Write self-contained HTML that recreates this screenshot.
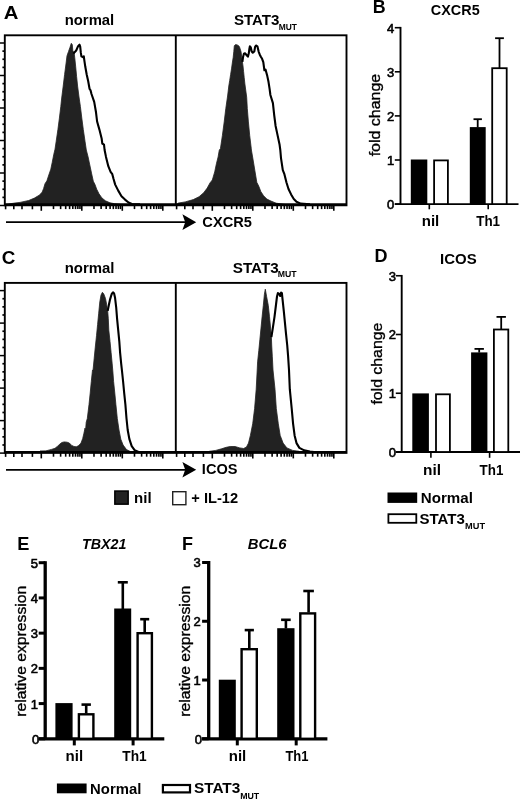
<!DOCTYPE html>
<html><head><meta charset="utf-8"><style>
html,body{margin:0;padding:0;background:#fff;overflow:hidden;}
svg{display:block;will-change:transform;}
text{font-family:"Liberation Sans", sans-serif;fill:#000;}
</style></head><body>
<svg width="520" height="799" viewBox="0 0 520 799">
<rect width="520" height="799" fill="#fff"/>
<text x="3.77" y="18.75" font-size="18" font-weight="bold" font-style="normal" textLength="14.65" lengthAdjust="spacingAndGlyphs">A</text>
<text x="64.74" y="24.8" font-size="14" font-weight="bold" font-style="normal" textLength="49.49" lengthAdjust="spacingAndGlyphs">normal</text>
<text x="233.92" y="25.0" font-size="14" font-weight="bold" font-style="normal" textLength="45.56" lengthAdjust="spacingAndGlyphs">STAT3</text>
<text x="278.71" y="29.6" font-size="8.5" font-weight="bold" font-style="normal" textLength="18.21" lengthAdjust="spacingAndGlyphs">MUT</text>
<text x="202.36" y="227.3" font-size="14" font-weight="bold" font-style="normal" textLength="49.53" lengthAdjust="spacingAndGlyphs">CXCR5</text>
<polygon points="5.5,204.6 10.0,203.8 15.0,203.0 20.0,202.4 28.7,200.5 34.4,198.1 39.2,195.2 42.1,192.3 43.6,188.5 45.0,183.7 46.9,180.8 48.8,175.0 50.8,169.2 52.2,162.5 53.7,154.8 55.0,149.2 56.2,141.2 57.9,129.6 59.4,118.1 60.8,106.5 61.7,98.0 63.2,86.1 64.6,74.5 66.1,63.0 67.0,55.8 68.5,51.5 69.9,47.6 71.3,43.3 72.3,44.7 72.8,50.5 74.2,53.4 74.7,57.2 75.7,66.8 76.6,76.5 77.6,86.1 79.0,97.0 80.4,106.5 81.8,118.1 83.3,129.6 85.0,141.2 86.3,150.0 88.1,156.9 89.8,165.0 91.5,173.1 93.3,181.2 95.0,184.6 96.7,189.2 99.0,193.8 101.9,197.9 105.4,200.8 110.0,202.8 114.6,203.7 120.4,204.3 126.0,204.6" fill="#222" stroke="#222" stroke-width="0.8" stroke-linejoin="round"/>
<polygon points="176.6,204.6 178.3,203.1 185.2,201.9 193.3,199.6 199.1,196.7 203.7,192.7 207.2,188.1 210.0,182.9 212.3,180.0 214.7,171.9 216.4,163.8 218.1,156.9 219.3,150.0 220.4,148.8 222.4,135.4 224.2,121.9 225.8,108.5 227.6,96.0 228.8,86.0 229.7,80.4 230.6,74.6 231.5,68.9 232.3,63.1 233.2,57.3 233.8,51.5 234.3,45.8 235.5,44.6 237.2,44.9 238.7,45.8 239.5,46.9 241.0,51.5 241.8,57.3 242.4,61.9 243.0,66.0 243.6,71.7 244.2,77.5 244.9,84.0 246.7,97.3 247.3,108.5 248.4,121.9 249.7,135.4 251.3,148.8 251.4,150.0 252.8,158.1 254.8,170.2 256.8,182.3 258.8,186.3 260.9,191.7 263.6,195.8 266.9,199.1 271.0,201.1 276.3,203.2 280.4,203.8 286.0,204.6" fill="#222" stroke="#222" stroke-width="0.8" stroke-linejoin="round"/>
<polyline points="73.4,53.6 76.2,50.5 78.1,46.2 79.5,44.7 80.2,46.7 80.8,52.4 81.4,56.3 82.9,57.2 83.8,56.3 84.3,60.1 85.3,66.8 86.7,74.5 88.2,81.3 89.6,89.0 90.6,90.4 91.5,94.0 94.2,101.9 96.0,112.3 97.1,121.5 99.4,129.6 101.7,138.8 102.3,143.5 104.0,144.6 104.6,150.0 106.0,156.9 108.3,166.2 110.6,171.9 112.3,174.2 113.5,178.8 115.2,184.6 118.1,190.4 121.5,196.2 125.0,199.6 128.5,202.5 131.9,204.0 140.0,204.4" fill="none" stroke="#000" stroke-width="2.1" stroke-linejoin="round"/>
<polyline points="242.4,61.9 243.0,57.3 243.9,53.8 245.0,53.3 246.5,55.0 247.9,56.7 248.8,53.3 249.4,48.7 249.9,46.3 250.8,47.5 251.7,51.5 252.8,52.7 254.3,51.5 255.1,46.9 256.0,45.5 257.4,46.3 258.7,51.8 259.8,54.7 261.0,57.0 262.1,58.8 263.3,62.2 264.4,70.3 265.6,69.7 266.2,72.0 267.3,76.1 268.5,81.8 269.6,88.8 270.4,95.0 272.9,103.1 274.2,115.2 275.6,126.0 277.6,135.4 279.6,144.8 280.3,150.0 281.0,158.1 282.8,170.2 284.4,174.2 286.4,182.3 288.5,189.0 291.1,194.4 293.8,199.1 296.5,201.8 300.6,203.6 310.0,204.3" fill="none" stroke="#000" stroke-width="2.1" stroke-linejoin="round"/>
<rect x="4.8" y="35.3" width="341.7" height="170.0" fill="none" stroke="#000" stroke-width="1.9"/>
<line x1="175.80" y1="35.30" x2="175.80" y2="205.30" stroke="#000" stroke-width="1.9" stroke-linecap="butt"/>
<line x1="4.80" y1="204.30" x2="346.50" y2="204.30" stroke="#000" stroke-width="2.0" stroke-linecap="butt"/>
<line x1="0.00" y1="43.00" x2="4.80" y2="43.00" stroke="#000" stroke-width="1.5" stroke-linecap="butt"/>
<line x1="2.40" y1="51.12" x2="4.80" y2="51.12" stroke="#000" stroke-width="1.7" stroke-linecap="butt"/>
<line x1="2.40" y1="59.25" x2="4.80" y2="59.25" stroke="#000" stroke-width="1.7" stroke-linecap="butt"/>
<line x1="2.40" y1="67.38" x2="4.80" y2="67.38" stroke="#000" stroke-width="1.7" stroke-linecap="butt"/>
<line x1="0.00" y1="75.50" x2="4.80" y2="75.50" stroke="#000" stroke-width="1.5" stroke-linecap="butt"/>
<line x1="2.40" y1="83.62" x2="4.80" y2="83.62" stroke="#000" stroke-width="1.7" stroke-linecap="butt"/>
<line x1="2.40" y1="91.75" x2="4.80" y2="91.75" stroke="#000" stroke-width="1.7" stroke-linecap="butt"/>
<line x1="2.40" y1="99.88" x2="4.80" y2="99.88" stroke="#000" stroke-width="1.7" stroke-linecap="butt"/>
<line x1="0.00" y1="108.00" x2="4.80" y2="108.00" stroke="#000" stroke-width="1.5" stroke-linecap="butt"/>
<line x1="2.40" y1="116.12" x2="4.80" y2="116.12" stroke="#000" stroke-width="1.7" stroke-linecap="butt"/>
<line x1="2.40" y1="124.25" x2="4.80" y2="124.25" stroke="#000" stroke-width="1.7" stroke-linecap="butt"/>
<line x1="2.40" y1="132.38" x2="4.80" y2="132.38" stroke="#000" stroke-width="1.7" stroke-linecap="butt"/>
<line x1="0.00" y1="140.50" x2="4.80" y2="140.50" stroke="#000" stroke-width="1.5" stroke-linecap="butt"/>
<line x1="2.40" y1="148.62" x2="4.80" y2="148.62" stroke="#000" stroke-width="1.7" stroke-linecap="butt"/>
<line x1="2.40" y1="156.75" x2="4.80" y2="156.75" stroke="#000" stroke-width="1.7" stroke-linecap="butt"/>
<line x1="2.40" y1="164.88" x2="4.80" y2="164.88" stroke="#000" stroke-width="1.7" stroke-linecap="butt"/>
<line x1="0.00" y1="173.00" x2="4.80" y2="173.00" stroke="#000" stroke-width="1.5" stroke-linecap="butt"/>
<line x1="2.40" y1="181.12" x2="4.80" y2="181.12" stroke="#000" stroke-width="1.7" stroke-linecap="butt"/>
<line x1="2.40" y1="189.25" x2="4.80" y2="189.25" stroke="#000" stroke-width="1.7" stroke-linecap="butt"/>
<line x1="2.40" y1="197.38" x2="4.80" y2="197.38" stroke="#000" stroke-width="1.7" stroke-linecap="butt"/>
<line x1="0.00" y1="205.50" x2="4.80" y2="205.50" stroke="#000" stroke-width="1.5" stroke-linecap="butt"/>
<line x1="5.60" y1="205.30" x2="5.60" y2="209.30" stroke="#000" stroke-width="1.6" stroke-linecap="butt"/>
<line x1="13.80" y1="205.30" x2="13.80" y2="209.30" stroke="#000" stroke-width="1.6" stroke-linecap="butt"/>
<line x1="22.00" y1="205.30" x2="22.00" y2="209.30" stroke="#000" stroke-width="1.6" stroke-linecap="butt"/>
<line x1="32.40" y1="205.30" x2="32.40" y2="209.30" stroke="#000" stroke-width="1.6" stroke-linecap="butt"/>
<line x1="41.30" y1="205.30" x2="41.30" y2="210.80" stroke="#000" stroke-width="1.6" stroke-linecap="butt"/>
<line x1="53.49" y1="205.30" x2="53.49" y2="209.10" stroke="#000" stroke-width="1.6" stroke-linecap="butt"/>
<line x1="60.62" y1="205.30" x2="60.62" y2="209.10" stroke="#000" stroke-width="1.6" stroke-linecap="butt"/>
<line x1="65.68" y1="205.30" x2="65.68" y2="209.10" stroke="#000" stroke-width="1.6" stroke-linecap="butt"/>
<line x1="69.61" y1="205.30" x2="69.61" y2="209.10" stroke="#000" stroke-width="1.6" stroke-linecap="butt"/>
<line x1="72.82" y1="205.30" x2="72.82" y2="209.10" stroke="#000" stroke-width="1.6" stroke-linecap="butt"/>
<line x1="75.53" y1="205.30" x2="75.53" y2="209.10" stroke="#000" stroke-width="1.6" stroke-linecap="butt"/>
<line x1="77.88" y1="205.30" x2="77.88" y2="209.10" stroke="#000" stroke-width="1.6" stroke-linecap="butt"/>
<line x1="79.95" y1="205.30" x2="79.95" y2="209.10" stroke="#000" stroke-width="1.6" stroke-linecap="butt"/>
<line x1="81.80" y1="205.30" x2="81.80" y2="210.80" stroke="#000" stroke-width="1.6" stroke-linecap="butt"/>
<line x1="93.99" y1="205.30" x2="93.99" y2="209.10" stroke="#000" stroke-width="1.6" stroke-linecap="butt"/>
<line x1="101.12" y1="205.30" x2="101.12" y2="209.10" stroke="#000" stroke-width="1.6" stroke-linecap="butt"/>
<line x1="106.18" y1="205.30" x2="106.18" y2="209.10" stroke="#000" stroke-width="1.6" stroke-linecap="butt"/>
<line x1="110.11" y1="205.30" x2="110.11" y2="209.10" stroke="#000" stroke-width="1.6" stroke-linecap="butt"/>
<line x1="113.32" y1="205.30" x2="113.32" y2="209.10" stroke="#000" stroke-width="1.6" stroke-linecap="butt"/>
<line x1="116.03" y1="205.30" x2="116.03" y2="209.10" stroke="#000" stroke-width="1.6" stroke-linecap="butt"/>
<line x1="118.38" y1="205.30" x2="118.38" y2="209.10" stroke="#000" stroke-width="1.6" stroke-linecap="butt"/>
<line x1="120.45" y1="205.30" x2="120.45" y2="209.10" stroke="#000" stroke-width="1.6" stroke-linecap="butt"/>
<line x1="122.30" y1="205.30" x2="122.30" y2="210.80" stroke="#000" stroke-width="1.6" stroke-linecap="butt"/>
<line x1="134.49" y1="205.30" x2="134.49" y2="209.10" stroke="#000" stroke-width="1.6" stroke-linecap="butt"/>
<line x1="141.62" y1="205.30" x2="141.62" y2="209.10" stroke="#000" stroke-width="1.6" stroke-linecap="butt"/>
<line x1="146.68" y1="205.30" x2="146.68" y2="209.10" stroke="#000" stroke-width="1.6" stroke-linecap="butt"/>
<line x1="150.61" y1="205.30" x2="150.61" y2="209.10" stroke="#000" stroke-width="1.6" stroke-linecap="butt"/>
<line x1="153.82" y1="205.30" x2="153.82" y2="209.10" stroke="#000" stroke-width="1.6" stroke-linecap="butt"/>
<line x1="156.53" y1="205.30" x2="156.53" y2="209.10" stroke="#000" stroke-width="1.6" stroke-linecap="butt"/>
<line x1="158.88" y1="205.30" x2="158.88" y2="209.10" stroke="#000" stroke-width="1.6" stroke-linecap="butt"/>
<line x1="160.95" y1="205.30" x2="160.95" y2="209.10" stroke="#000" stroke-width="1.6" stroke-linecap="butt"/>
<line x1="162.80" y1="205.30" x2="162.80" y2="210.80" stroke="#000" stroke-width="1.6" stroke-linecap="butt"/>
<line x1="176.60" y1="205.30" x2="176.60" y2="209.30" stroke="#000" stroke-width="1.6" stroke-linecap="butt"/>
<line x1="184.80" y1="205.30" x2="184.80" y2="209.30" stroke="#000" stroke-width="1.6" stroke-linecap="butt"/>
<line x1="193.00" y1="205.30" x2="193.00" y2="209.30" stroke="#000" stroke-width="1.6" stroke-linecap="butt"/>
<line x1="203.40" y1="205.30" x2="203.40" y2="209.30" stroke="#000" stroke-width="1.6" stroke-linecap="butt"/>
<line x1="212.30" y1="205.30" x2="212.30" y2="210.80" stroke="#000" stroke-width="1.6" stroke-linecap="butt"/>
<line x1="224.49" y1="205.30" x2="224.49" y2="209.10" stroke="#000" stroke-width="1.6" stroke-linecap="butt"/>
<line x1="231.62" y1="205.30" x2="231.62" y2="209.10" stroke="#000" stroke-width="1.6" stroke-linecap="butt"/>
<line x1="236.68" y1="205.30" x2="236.68" y2="209.10" stroke="#000" stroke-width="1.6" stroke-linecap="butt"/>
<line x1="240.61" y1="205.30" x2="240.61" y2="209.10" stroke="#000" stroke-width="1.6" stroke-linecap="butt"/>
<line x1="243.82" y1="205.30" x2="243.82" y2="209.10" stroke="#000" stroke-width="1.6" stroke-linecap="butt"/>
<line x1="246.53" y1="205.30" x2="246.53" y2="209.10" stroke="#000" stroke-width="1.6" stroke-linecap="butt"/>
<line x1="248.88" y1="205.30" x2="248.88" y2="209.10" stroke="#000" stroke-width="1.6" stroke-linecap="butt"/>
<line x1="250.95" y1="205.30" x2="250.95" y2="209.10" stroke="#000" stroke-width="1.6" stroke-linecap="butt"/>
<line x1="252.80" y1="205.30" x2="252.80" y2="210.80" stroke="#000" stroke-width="1.6" stroke-linecap="butt"/>
<line x1="264.99" y1="205.30" x2="264.99" y2="209.10" stroke="#000" stroke-width="1.6" stroke-linecap="butt"/>
<line x1="272.12" y1="205.30" x2="272.12" y2="209.10" stroke="#000" stroke-width="1.6" stroke-linecap="butt"/>
<line x1="277.18" y1="205.30" x2="277.18" y2="209.10" stroke="#000" stroke-width="1.6" stroke-linecap="butt"/>
<line x1="281.11" y1="205.30" x2="281.11" y2="209.10" stroke="#000" stroke-width="1.6" stroke-linecap="butt"/>
<line x1="284.32" y1="205.30" x2="284.32" y2="209.10" stroke="#000" stroke-width="1.6" stroke-linecap="butt"/>
<line x1="287.03" y1="205.30" x2="287.03" y2="209.10" stroke="#000" stroke-width="1.6" stroke-linecap="butt"/>
<line x1="289.38" y1="205.30" x2="289.38" y2="209.10" stroke="#000" stroke-width="1.6" stroke-linecap="butt"/>
<line x1="291.45" y1="205.30" x2="291.45" y2="209.10" stroke="#000" stroke-width="1.6" stroke-linecap="butt"/>
<line x1="293.30" y1="205.30" x2="293.30" y2="210.80" stroke="#000" stroke-width="1.6" stroke-linecap="butt"/>
<line x1="305.49" y1="205.30" x2="305.49" y2="209.10" stroke="#000" stroke-width="1.6" stroke-linecap="butt"/>
<line x1="312.62" y1="205.30" x2="312.62" y2="209.10" stroke="#000" stroke-width="1.6" stroke-linecap="butt"/>
<line x1="317.68" y1="205.30" x2="317.68" y2="209.10" stroke="#000" stroke-width="1.6" stroke-linecap="butt"/>
<line x1="321.61" y1="205.30" x2="321.61" y2="209.10" stroke="#000" stroke-width="1.6" stroke-linecap="butt"/>
<line x1="324.82" y1="205.30" x2="324.82" y2="209.10" stroke="#000" stroke-width="1.6" stroke-linecap="butt"/>
<line x1="327.53" y1="205.30" x2="327.53" y2="209.10" stroke="#000" stroke-width="1.6" stroke-linecap="butt"/>
<line x1="329.88" y1="205.30" x2="329.88" y2="209.10" stroke="#000" stroke-width="1.6" stroke-linecap="butt"/>
<line x1="331.95" y1="205.30" x2="331.95" y2="209.10" stroke="#000" stroke-width="1.6" stroke-linecap="butt"/>
<line x1="333.80" y1="205.30" x2="333.80" y2="210.80" stroke="#000" stroke-width="1.6" stroke-linecap="butt"/>
<line x1="6.00" y1="222.20" x2="186.00" y2="222.20" stroke="#000" stroke-width="1.8" stroke-linecap="butt"/>
<path d="M182.4,214.29999999999998 L196.2,222.2 L182.4,229.89999999999998 L185.2,222.2 Z" fill="#000"/>
<text x="1.85" y="263.7" font-size="18" font-weight="bold" font-style="normal" textLength="13.59" lengthAdjust="spacingAndGlyphs">C</text>
<text x="64.73" y="272.5" font-size="14" font-weight="bold" font-style="normal" textLength="49.8" lengthAdjust="spacingAndGlyphs">normal</text>
<text x="232.71" y="272.8" font-size="14" font-weight="bold" font-style="normal" textLength="46.08" lengthAdjust="spacingAndGlyphs">STAT3</text>
<text x="277.78" y="277.4" font-size="8.5" font-weight="bold" font-style="normal" textLength="18.86" lengthAdjust="spacingAndGlyphs">MUT</text>
<text x="201.86" y="473.5" font-size="14" font-weight="bold" font-style="normal" textLength="35.58" lengthAdjust="spacingAndGlyphs">ICOS</text>
<polygon points="40.0,451.2 45.8,450.9 51.5,449.4 55.0,448.3 57.3,446.5 59.6,444.2 61.9,442.5 64.2,441.9 67.1,442.2 69.4,443.1 71.7,445.4 74.0,446.5 76.3,446.8 78.7,445.6 81.0,443.1 82.7,438.5 83.8,433.8 85.0,428.1 85.6,430.0 86.2,422.3 87.3,418.5 89.0,404.6 90.2,393.1 91.3,381.5 92.5,370.0 93.1,369.5 94.2,358.2 95.3,347.0 96.5,335.7 97.6,324.4 98.7,313.2 99.8,301.9 101.0,295.1 102.4,292.3 103.8,294.0 105.5,298.5 106.6,304.2 107.7,310.9 108.3,318.8 108.8,330.1 110.0,341.3 111.1,352.6 112.2,363.9 112.9,372.0 113.6,381.5 114.8,393.1 115.9,404.6 117.3,418.5 119.0,430.0 120.8,439.2 123.1,445.0 126.5,449.6 131.2,451.9 135.8,452.8" fill="#222" stroke="#222" stroke-width="0.8" stroke-linejoin="round"/>
<polygon points="205.0,452.3 210.0,451.2 215.8,450.4 221.5,448.8 226.3,447.3 230.2,446.5 235.0,446.5 239.8,447.9 243.7,448.5 246.5,446.9 248.5,443.1 250.4,435.4 252.7,423.8 254.6,408.5 256.2,389.2 257.1,372.0 257.6,361.9 258.8,350.6 259.9,339.3 261.0,328.1 262.1,316.8 263.3,305.5 264.4,294.3 265.3,289.2 266.6,296.5 268.3,305.5 269.5,316.8 270.6,328.1 271.4,337.1 271.7,345.0 272.3,356.2 273.0,370.0 275.0,389.2 276.3,408.5 278.3,423.8 280.2,435.4 283.1,443.1 286.9,447.9 292.7,450.4 298.5,451.2 302.0,452.3" fill="#222" stroke="#222" stroke-width="0.8" stroke-linejoin="round"/>
<polyline points="107.7,310.9 108.8,305.3 110.0,299.6 111.7,294.0 113.0,292.3 114.1,293.5 115.0,297.4 116.2,307.5 117.1,318.8 118.2,330.1 119.3,341.3 120.1,352.6 121.2,363.9 122.0,371.0 123.1,381.5 124.2,393.1 125.4,404.6 126.5,418.5 127.7,430.0 129.4,439.2 131.7,446.2 134.6,450.2 139.2,452.2 145.0,452.5" fill="none" stroke="#000" stroke-width="2.1" stroke-linejoin="round"/>
<polyline points="271.4,337.1 272.8,328.1 274.5,316.8 275.9,305.5 277.0,296.5 277.9,293.1 279.0,293.7 280.2,296.0 281.1,292.6 281.9,293.1 282.6,299.9 283.8,311.2 284.9,322.4 286.0,333.7 287.2,345.0 288.1,356.2 289.0,370.0 289.8,389.2 291.7,408.5 293.1,423.8 294.6,435.4 296.5,443.1 299.4,447.9 304.2,450.4 310.0,451.6 316.0,452.3" fill="none" stroke="#000" stroke-width="2.1" stroke-linejoin="round"/>
<rect x="4.8" y="282.9" width="341.7" height="170.0" fill="none" stroke="#000" stroke-width="1.9"/>
<line x1="175.80" y1="282.90" x2="175.80" y2="452.90" stroke="#000" stroke-width="1.9" stroke-linecap="butt"/>
<line x1="4.80" y1="451.90" x2="346.50" y2="451.90" stroke="#000" stroke-width="2.0" stroke-linecap="butt"/>
<line x1="0.00" y1="290.60" x2="4.80" y2="290.60" stroke="#000" stroke-width="1.5" stroke-linecap="butt"/>
<line x1="2.40" y1="298.73" x2="4.80" y2="298.73" stroke="#000" stroke-width="1.7" stroke-linecap="butt"/>
<line x1="2.40" y1="306.85" x2="4.80" y2="306.85" stroke="#000" stroke-width="1.7" stroke-linecap="butt"/>
<line x1="2.40" y1="314.98" x2="4.80" y2="314.98" stroke="#000" stroke-width="1.7" stroke-linecap="butt"/>
<line x1="0.00" y1="323.10" x2="4.80" y2="323.10" stroke="#000" stroke-width="1.5" stroke-linecap="butt"/>
<line x1="2.40" y1="331.23" x2="4.80" y2="331.23" stroke="#000" stroke-width="1.7" stroke-linecap="butt"/>
<line x1="2.40" y1="339.35" x2="4.80" y2="339.35" stroke="#000" stroke-width="1.7" stroke-linecap="butt"/>
<line x1="2.40" y1="347.48" x2="4.80" y2="347.48" stroke="#000" stroke-width="1.7" stroke-linecap="butt"/>
<line x1="0.00" y1="355.60" x2="4.80" y2="355.60" stroke="#000" stroke-width="1.5" stroke-linecap="butt"/>
<line x1="2.40" y1="363.73" x2="4.80" y2="363.73" stroke="#000" stroke-width="1.7" stroke-linecap="butt"/>
<line x1="2.40" y1="371.85" x2="4.80" y2="371.85" stroke="#000" stroke-width="1.7" stroke-linecap="butt"/>
<line x1="2.40" y1="379.98" x2="4.80" y2="379.98" stroke="#000" stroke-width="1.7" stroke-linecap="butt"/>
<line x1="0.00" y1="388.10" x2="4.80" y2="388.10" stroke="#000" stroke-width="1.5" stroke-linecap="butt"/>
<line x1="2.40" y1="396.23" x2="4.80" y2="396.23" stroke="#000" stroke-width="1.7" stroke-linecap="butt"/>
<line x1="2.40" y1="404.35" x2="4.80" y2="404.35" stroke="#000" stroke-width="1.7" stroke-linecap="butt"/>
<line x1="2.40" y1="412.48" x2="4.80" y2="412.48" stroke="#000" stroke-width="1.7" stroke-linecap="butt"/>
<line x1="0.00" y1="420.60" x2="4.80" y2="420.60" stroke="#000" stroke-width="1.5" stroke-linecap="butt"/>
<line x1="2.40" y1="428.73" x2="4.80" y2="428.73" stroke="#000" stroke-width="1.7" stroke-linecap="butt"/>
<line x1="2.40" y1="436.85" x2="4.80" y2="436.85" stroke="#000" stroke-width="1.7" stroke-linecap="butt"/>
<line x1="2.40" y1="444.98" x2="4.80" y2="444.98" stroke="#000" stroke-width="1.7" stroke-linecap="butt"/>
<line x1="0.00" y1="453.10" x2="4.80" y2="453.10" stroke="#000" stroke-width="1.5" stroke-linecap="butt"/>
<line x1="5.60" y1="452.90" x2="5.60" y2="456.90" stroke="#000" stroke-width="1.6" stroke-linecap="butt"/>
<line x1="13.80" y1="452.90" x2="13.80" y2="456.90" stroke="#000" stroke-width="1.6" stroke-linecap="butt"/>
<line x1="22.00" y1="452.90" x2="22.00" y2="456.90" stroke="#000" stroke-width="1.6" stroke-linecap="butt"/>
<line x1="32.40" y1="452.90" x2="32.40" y2="456.90" stroke="#000" stroke-width="1.6" stroke-linecap="butt"/>
<line x1="41.30" y1="452.90" x2="41.30" y2="458.40" stroke="#000" stroke-width="1.6" stroke-linecap="butt"/>
<line x1="53.49" y1="452.90" x2="53.49" y2="456.70" stroke="#000" stroke-width="1.6" stroke-linecap="butt"/>
<line x1="60.62" y1="452.90" x2="60.62" y2="456.70" stroke="#000" stroke-width="1.6" stroke-linecap="butt"/>
<line x1="65.68" y1="452.90" x2="65.68" y2="456.70" stroke="#000" stroke-width="1.6" stroke-linecap="butt"/>
<line x1="69.61" y1="452.90" x2="69.61" y2="456.70" stroke="#000" stroke-width="1.6" stroke-linecap="butt"/>
<line x1="72.82" y1="452.90" x2="72.82" y2="456.70" stroke="#000" stroke-width="1.6" stroke-linecap="butt"/>
<line x1="75.53" y1="452.90" x2="75.53" y2="456.70" stroke="#000" stroke-width="1.6" stroke-linecap="butt"/>
<line x1="77.88" y1="452.90" x2="77.88" y2="456.70" stroke="#000" stroke-width="1.6" stroke-linecap="butt"/>
<line x1="79.95" y1="452.90" x2="79.95" y2="456.70" stroke="#000" stroke-width="1.6" stroke-linecap="butt"/>
<line x1="81.80" y1="452.90" x2="81.80" y2="458.40" stroke="#000" stroke-width="1.6" stroke-linecap="butt"/>
<line x1="93.99" y1="452.90" x2="93.99" y2="456.70" stroke="#000" stroke-width="1.6" stroke-linecap="butt"/>
<line x1="101.12" y1="452.90" x2="101.12" y2="456.70" stroke="#000" stroke-width="1.6" stroke-linecap="butt"/>
<line x1="106.18" y1="452.90" x2="106.18" y2="456.70" stroke="#000" stroke-width="1.6" stroke-linecap="butt"/>
<line x1="110.11" y1="452.90" x2="110.11" y2="456.70" stroke="#000" stroke-width="1.6" stroke-linecap="butt"/>
<line x1="113.32" y1="452.90" x2="113.32" y2="456.70" stroke="#000" stroke-width="1.6" stroke-linecap="butt"/>
<line x1="116.03" y1="452.90" x2="116.03" y2="456.70" stroke="#000" stroke-width="1.6" stroke-linecap="butt"/>
<line x1="118.38" y1="452.90" x2="118.38" y2="456.70" stroke="#000" stroke-width="1.6" stroke-linecap="butt"/>
<line x1="120.45" y1="452.90" x2="120.45" y2="456.70" stroke="#000" stroke-width="1.6" stroke-linecap="butt"/>
<line x1="122.30" y1="452.90" x2="122.30" y2="458.40" stroke="#000" stroke-width="1.6" stroke-linecap="butt"/>
<line x1="134.49" y1="452.90" x2="134.49" y2="456.70" stroke="#000" stroke-width="1.6" stroke-linecap="butt"/>
<line x1="141.62" y1="452.90" x2="141.62" y2="456.70" stroke="#000" stroke-width="1.6" stroke-linecap="butt"/>
<line x1="146.68" y1="452.90" x2="146.68" y2="456.70" stroke="#000" stroke-width="1.6" stroke-linecap="butt"/>
<line x1="150.61" y1="452.90" x2="150.61" y2="456.70" stroke="#000" stroke-width="1.6" stroke-linecap="butt"/>
<line x1="153.82" y1="452.90" x2="153.82" y2="456.70" stroke="#000" stroke-width="1.6" stroke-linecap="butt"/>
<line x1="156.53" y1="452.90" x2="156.53" y2="456.70" stroke="#000" stroke-width="1.6" stroke-linecap="butt"/>
<line x1="158.88" y1="452.90" x2="158.88" y2="456.70" stroke="#000" stroke-width="1.6" stroke-linecap="butt"/>
<line x1="160.95" y1="452.90" x2="160.95" y2="456.70" stroke="#000" stroke-width="1.6" stroke-linecap="butt"/>
<line x1="162.80" y1="452.90" x2="162.80" y2="458.40" stroke="#000" stroke-width="1.6" stroke-linecap="butt"/>
<line x1="176.60" y1="452.90" x2="176.60" y2="456.90" stroke="#000" stroke-width="1.6" stroke-linecap="butt"/>
<line x1="184.80" y1="452.90" x2="184.80" y2="456.90" stroke="#000" stroke-width="1.6" stroke-linecap="butt"/>
<line x1="193.00" y1="452.90" x2="193.00" y2="456.90" stroke="#000" stroke-width="1.6" stroke-linecap="butt"/>
<line x1="203.40" y1="452.90" x2="203.40" y2="456.90" stroke="#000" stroke-width="1.6" stroke-linecap="butt"/>
<line x1="212.30" y1="452.90" x2="212.30" y2="458.40" stroke="#000" stroke-width="1.6" stroke-linecap="butt"/>
<line x1="224.49" y1="452.90" x2="224.49" y2="456.70" stroke="#000" stroke-width="1.6" stroke-linecap="butt"/>
<line x1="231.62" y1="452.90" x2="231.62" y2="456.70" stroke="#000" stroke-width="1.6" stroke-linecap="butt"/>
<line x1="236.68" y1="452.90" x2="236.68" y2="456.70" stroke="#000" stroke-width="1.6" stroke-linecap="butt"/>
<line x1="240.61" y1="452.90" x2="240.61" y2="456.70" stroke="#000" stroke-width="1.6" stroke-linecap="butt"/>
<line x1="243.82" y1="452.90" x2="243.82" y2="456.70" stroke="#000" stroke-width="1.6" stroke-linecap="butt"/>
<line x1="246.53" y1="452.90" x2="246.53" y2="456.70" stroke="#000" stroke-width="1.6" stroke-linecap="butt"/>
<line x1="248.88" y1="452.90" x2="248.88" y2="456.70" stroke="#000" stroke-width="1.6" stroke-linecap="butt"/>
<line x1="250.95" y1="452.90" x2="250.95" y2="456.70" stroke="#000" stroke-width="1.6" stroke-linecap="butt"/>
<line x1="252.80" y1="452.90" x2="252.80" y2="458.40" stroke="#000" stroke-width="1.6" stroke-linecap="butt"/>
<line x1="264.99" y1="452.90" x2="264.99" y2="456.70" stroke="#000" stroke-width="1.6" stroke-linecap="butt"/>
<line x1="272.12" y1="452.90" x2="272.12" y2="456.70" stroke="#000" stroke-width="1.6" stroke-linecap="butt"/>
<line x1="277.18" y1="452.90" x2="277.18" y2="456.70" stroke="#000" stroke-width="1.6" stroke-linecap="butt"/>
<line x1="281.11" y1="452.90" x2="281.11" y2="456.70" stroke="#000" stroke-width="1.6" stroke-linecap="butt"/>
<line x1="284.32" y1="452.90" x2="284.32" y2="456.70" stroke="#000" stroke-width="1.6" stroke-linecap="butt"/>
<line x1="287.03" y1="452.90" x2="287.03" y2="456.70" stroke="#000" stroke-width="1.6" stroke-linecap="butt"/>
<line x1="289.38" y1="452.90" x2="289.38" y2="456.70" stroke="#000" stroke-width="1.6" stroke-linecap="butt"/>
<line x1="291.45" y1="452.90" x2="291.45" y2="456.70" stroke="#000" stroke-width="1.6" stroke-linecap="butt"/>
<line x1="293.30" y1="452.90" x2="293.30" y2="458.40" stroke="#000" stroke-width="1.6" stroke-linecap="butt"/>
<line x1="305.49" y1="452.90" x2="305.49" y2="456.70" stroke="#000" stroke-width="1.6" stroke-linecap="butt"/>
<line x1="312.62" y1="452.90" x2="312.62" y2="456.70" stroke="#000" stroke-width="1.6" stroke-linecap="butt"/>
<line x1="317.68" y1="452.90" x2="317.68" y2="456.70" stroke="#000" stroke-width="1.6" stroke-linecap="butt"/>
<line x1="321.61" y1="452.90" x2="321.61" y2="456.70" stroke="#000" stroke-width="1.6" stroke-linecap="butt"/>
<line x1="324.82" y1="452.90" x2="324.82" y2="456.70" stroke="#000" stroke-width="1.6" stroke-linecap="butt"/>
<line x1="327.53" y1="452.90" x2="327.53" y2="456.70" stroke="#000" stroke-width="1.6" stroke-linecap="butt"/>
<line x1="329.88" y1="452.90" x2="329.88" y2="456.70" stroke="#000" stroke-width="1.6" stroke-linecap="butt"/>
<line x1="331.95" y1="452.90" x2="331.95" y2="456.70" stroke="#000" stroke-width="1.6" stroke-linecap="butt"/>
<line x1="333.80" y1="452.90" x2="333.80" y2="458.40" stroke="#000" stroke-width="1.6" stroke-linecap="butt"/>
<line x1="6.00" y1="469.80" x2="186.00" y2="469.80" stroke="#000" stroke-width="1.8" stroke-linecap="butt"/>
<path d="M182.4,461.9 L196.2,469.79999999999995 L182.4,477.49999999999994 L185.2,469.79999999999995 Z" fill="#000"/>
<rect x="114.85" y="491.05" width="13.30" height="13.10" fill="#222" stroke="#000" stroke-width="1.5"/>
<text x="134.13" y="502.8" font-size="14" font-weight="bold" font-style="normal" textLength="17.51" lengthAdjust="spacingAndGlyphs">nil</text>
<rect x="172.70" y="491.70" width="13.20" height="13.00" fill="#fff" stroke="#222" stroke-width="1.4"/>
<text x="191.36" y="502.7" font-size="14" font-weight="bold" font-style="normal" textLength="46.73" lengthAdjust="spacingAndGlyphs">+ IL-12</text>
<text x="372.81" y="12.7" font-size="18" font-weight="bold" font-style="normal" textLength="12.88" lengthAdjust="spacingAndGlyphs">B</text>
<text x="430.87" y="15.0" font-size="14" font-weight="bold" font-style="normal" textLength="48.81" lengthAdjust="spacingAndGlyphs">CXCR5</text>
<text x="421.73" y="226.4" font-size="14" font-weight="bold" font-style="normal" textLength="17.51" lengthAdjust="spacingAndGlyphs">nil</text>
<text x="476.2" y="226.2" font-size="14" font-weight="bold" font-style="normal" textLength="23.85" lengthAdjust="spacingAndGlyphs">Th1</text>
<line x1="400.50" y1="26.90" x2="400.50" y2="204.10" stroke="#000" stroke-width="1.9" stroke-linecap="butt"/>
<line x1="394.80" y1="204.10" x2="400.50" y2="204.10" stroke="#000" stroke-width="1.6" stroke-linecap="butt"/>
<text x="394.20" y="209.05" font-size="13" font-weight="normal" font-style="normal" text-anchor="end" stroke="#000" stroke-width="0.6">0</text>
<line x1="394.80" y1="160.00" x2="400.50" y2="160.00" stroke="#000" stroke-width="1.6" stroke-linecap="butt"/>
<text x="394.20" y="164.95" font-size="13" font-weight="normal" font-style="normal" text-anchor="end" stroke="#000" stroke-width="0.6">1</text>
<line x1="394.80" y1="115.90" x2="400.50" y2="115.90" stroke="#000" stroke-width="1.6" stroke-linecap="butt"/>
<text x="394.20" y="120.85" font-size="13" font-weight="normal" font-style="normal" text-anchor="end" stroke="#000" stroke-width="0.6">2</text>
<line x1="394.80" y1="71.80" x2="400.50" y2="71.80" stroke="#000" stroke-width="1.6" stroke-linecap="butt"/>
<text x="394.20" y="76.75" font-size="13" font-weight="normal" font-style="normal" text-anchor="end" stroke="#000" stroke-width="0.6">3</text>
<line x1="394.80" y1="27.70" x2="400.50" y2="27.70" stroke="#000" stroke-width="1.6" stroke-linecap="butt"/>
<text x="394.20" y="32.65" font-size="13" font-weight="normal" font-style="normal" text-anchor="end" stroke="#000" stroke-width="0.6">4</text>
<line x1="394.80" y1="204.10" x2="518.50" y2="204.10" stroke="#000" stroke-width="1.9" stroke-linecap="butt"/>
<line x1="429.30" y1="204.10" x2="429.30" y2="209.30" stroke="#000" stroke-width="1.6" stroke-linecap="butt"/>
<line x1="488.20" y1="204.10" x2="488.20" y2="209.30" stroke="#000" stroke-width="1.6" stroke-linecap="butt"/>
<rect x="410.80" y="159.50" width="16.50" height="44.60" fill="#000"/>
<rect x="434.10" y="160.40" width="13.80" height="43.70" fill="#fff" stroke="#000" stroke-width="1.8"/>
<rect x="469.80" y="127.10" width="15.90" height="77.00" fill="#000"/>
<rect x="492.20" y="68.20" width="14.50" height="135.90" fill="#fff" stroke="#000" stroke-width="1.8"/>
<line x1="477.70" y1="127.50" x2="477.70" y2="119.20" stroke="#000" stroke-width="1.8" stroke-linecap="butt"/>
<line x1="473.50" y1="119.20" x2="481.90" y2="119.20" stroke="#000" stroke-width="1.8" stroke-linecap="butt"/>
<line x1="499.50" y1="68.00" x2="499.50" y2="38.20" stroke="#000" stroke-width="1.8" stroke-linecap="butt"/>
<line x1="495.10" y1="38.20" x2="503.90" y2="38.20" stroke="#000" stroke-width="1.8" stroke-linecap="butt"/>
<text transform="translate(379.6,115.1) rotate(-90)" font-size="14.5" font-weight="normal" text-anchor="middle" textLength="82.5" lengthAdjust="spacingAndGlyphs" stroke="#000" stroke-width="0.35">fold change</text>
<text x="374.5" y="262.3" font-size="18" font-weight="bold" font-style="normal" textLength="13.0" lengthAdjust="spacingAndGlyphs">D</text>
<text x="440.13" y="263.5" font-size="14" font-weight="bold" font-style="normal" textLength="36.62" lengthAdjust="spacingAndGlyphs">ICOS</text>
<text x="423.1" y="475.2" font-size="14" font-weight="bold" font-style="normal" textLength="17.98" lengthAdjust="spacingAndGlyphs">nil</text>
<text x="479.6" y="475.2" font-size="14" font-weight="bold" font-style="normal" textLength="23.75" lengthAdjust="spacingAndGlyphs">Th1</text>
<line x1="401.70" y1="274.95" x2="401.70" y2="452.00" stroke="#000" stroke-width="1.9" stroke-linecap="butt"/>
<line x1="395.80" y1="452.00" x2="401.70" y2="452.00" stroke="#000" stroke-width="1.6" stroke-linecap="butt"/>
<text x="395.90" y="456.95" font-size="13" font-weight="normal" font-style="normal" text-anchor="end" stroke="#000" stroke-width="0.6">0</text>
<line x1="395.80" y1="393.25" x2="401.70" y2="393.25" stroke="#000" stroke-width="1.6" stroke-linecap="butt"/>
<text x="395.90" y="398.20" font-size="13" font-weight="normal" font-style="normal" text-anchor="end" stroke="#000" stroke-width="0.6">1</text>
<line x1="395.80" y1="334.50" x2="401.70" y2="334.50" stroke="#000" stroke-width="1.6" stroke-linecap="butt"/>
<text x="395.90" y="339.45" font-size="13" font-weight="normal" font-style="normal" text-anchor="end" stroke="#000" stroke-width="0.6">2</text>
<line x1="395.80" y1="275.75" x2="401.70" y2="275.75" stroke="#000" stroke-width="1.6" stroke-linecap="butt"/>
<text x="395.90" y="280.70" font-size="13" font-weight="normal" font-style="normal" text-anchor="end" stroke="#000" stroke-width="0.6">3</text>
<line x1="395.80" y1="452.00" x2="520.00" y2="452.00" stroke="#000" stroke-width="1.9" stroke-linecap="butt"/>
<line x1="430.90" y1="452.00" x2="430.90" y2="457.80" stroke="#000" stroke-width="1.6" stroke-linecap="butt"/>
<line x1="489.60" y1="452.00" x2="489.60" y2="457.80" stroke="#000" stroke-width="1.6" stroke-linecap="butt"/>
<rect x="412.30" y="393.40" width="16.60" height="58.60" fill="#000"/>
<rect x="436.00" y="394.30" width="13.90" height="57.70" fill="#fff" stroke="#000" stroke-width="1.8"/>
<rect x="471.10" y="352.40" width="16.30" height="99.60" fill="#000"/>
<rect x="493.90" y="329.50" width="14.40" height="122.50" fill="#fff" stroke="#000" stroke-width="1.8"/>
<line x1="479.20" y1="352.60" x2="479.20" y2="348.90" stroke="#000" stroke-width="1.8" stroke-linecap="butt"/>
<line x1="474.50" y1="348.90" x2="483.90" y2="348.90" stroke="#000" stroke-width="1.8" stroke-linecap="butt"/>
<line x1="501.20" y1="329.00" x2="501.20" y2="316.90" stroke="#000" stroke-width="1.8" stroke-linecap="butt"/>
<line x1="496.50" y1="316.90" x2="505.90" y2="316.90" stroke="#000" stroke-width="1.8" stroke-linecap="butt"/>
<text transform="translate(381.6,363.6) rotate(-90)" font-size="14.5" font-weight="normal" text-anchor="middle" textLength="82" lengthAdjust="spacingAndGlyphs" stroke="#000" stroke-width="0.35">fold change</text>
<rect x="387.50" y="492.50" width="29.70" height="10.40" fill="#000"/>
<text x="420.72" y="502.9" font-size="14" font-weight="bold" font-style="normal" textLength="52.11" lengthAdjust="spacingAndGlyphs">Normal</text>
<rect x="388.40" y="514.20" width="27.90" height="8.60" fill="#fff" stroke="#000" stroke-width="1.8"/>
<text x="419.53" y="523.7" font-size="14" font-weight="bold" font-style="normal" textLength="45.36" lengthAdjust="spacingAndGlyphs">STAT3</text>
<text x="465.12" y="528.8" font-size="8.5" font-weight="bold" font-style="normal" textLength="19.94" lengthAdjust="spacingAndGlyphs">MUT</text>
<text x="17.19" y="550.0" font-size="18" font-weight="bold" font-style="normal" textLength="12.14" lengthAdjust="spacingAndGlyphs">E</text>
<text x="82.08" y="549.0" font-size="14" font-weight="bold" font-style="italic" textLength="44.3" lengthAdjust="spacingAndGlyphs">TBX21</text>
<text x="65.63" y="760.6" font-size="14" font-weight="bold" font-style="normal" textLength="17.51" lengthAdjust="spacingAndGlyphs">nil</text>
<text x="122.3" y="760.8" font-size="14" font-weight="bold" font-style="normal" textLength="24.37" lengthAdjust="spacingAndGlyphs">Th1</text>
<line x1="45.20" y1="561.20" x2="45.20" y2="738.80" stroke="#000" stroke-width="3.3" stroke-linecap="butt"/>
<line x1="38.70" y1="738.80" x2="45.20" y2="738.80" stroke="#000" stroke-width="3.0" stroke-linecap="butt"/>
<text x="39.20" y="743.75" font-size="13" font-weight="normal" font-style="normal" text-anchor="end" stroke="#000" stroke-width="0.6">0</text>
<line x1="38.70" y1="703.58" x2="45.20" y2="703.58" stroke="#000" stroke-width="3.0" stroke-linecap="butt"/>
<text x="37.90" y="708.53" font-size="13" font-weight="normal" font-style="normal" text-anchor="end" stroke="#000" stroke-width="0.6">1</text>
<line x1="38.70" y1="668.36" x2="45.20" y2="668.36" stroke="#000" stroke-width="3.0" stroke-linecap="butt"/>
<text x="37.90" y="673.31" font-size="13" font-weight="normal" font-style="normal" text-anchor="end" stroke="#000" stroke-width="0.6">2</text>
<line x1="38.70" y1="633.14" x2="45.20" y2="633.14" stroke="#000" stroke-width="3.0" stroke-linecap="butt"/>
<text x="37.90" y="638.09" font-size="13" font-weight="normal" font-style="normal" text-anchor="end" stroke="#000" stroke-width="0.6">3</text>
<line x1="38.70" y1="597.92" x2="45.20" y2="597.92" stroke="#000" stroke-width="3.0" stroke-linecap="butt"/>
<text x="37.90" y="602.87" font-size="13" font-weight="normal" font-style="normal" text-anchor="end" stroke="#000" stroke-width="0.6">4</text>
<line x1="38.70" y1="562.70" x2="45.20" y2="562.70" stroke="#000" stroke-width="3.0" stroke-linecap="butt"/>
<text x="37.90" y="567.65" font-size="13" font-weight="normal" font-style="normal" text-anchor="end" stroke="#000" stroke-width="0.6">5</text>
<line x1="38.70" y1="738.80" x2="164.30" y2="738.80" stroke="#000" stroke-width="3.3" stroke-linecap="butt"/>
<line x1="74.30" y1="738.80" x2="74.30" y2="745.40" stroke="#000" stroke-width="3" stroke-linecap="butt"/>
<line x1="133.10" y1="738.80" x2="133.10" y2="745.40" stroke="#000" stroke-width="3" stroke-linecap="butt"/>
<rect x="55.40" y="703.10" width="17.20" height="35.70" fill="#000"/>
<rect x="78.90" y="714.30" width="14.50" height="24.50" fill="#fff" stroke="#000" stroke-width="2.4"/>
<rect x="114.20" y="608.50" width="17.00" height="130.30" fill="#000"/>
<rect x="137.60" y="633.20" width="14.30" height="105.60" fill="#fff" stroke="#000" stroke-width="2.4"/>
<line x1="86.20" y1="713.50" x2="86.20" y2="704.60" stroke="#000" stroke-width="2.6" stroke-linecap="butt"/>
<line x1="81.50" y1="704.60" x2="90.90" y2="704.60" stroke="#000" stroke-width="2.6" stroke-linecap="butt"/>
<line x1="122.80" y1="609.00" x2="122.80" y2="582.30" stroke="#000" stroke-width="2.6" stroke-linecap="butt"/>
<line x1="117.80" y1="582.30" x2="127.80" y2="582.30" stroke="#000" stroke-width="2.6" stroke-linecap="butt"/>
<line x1="144.70" y1="632.50" x2="144.70" y2="619.20" stroke="#000" stroke-width="2.6" stroke-linecap="butt"/>
<line x1="140.20" y1="619.20" x2="149.20" y2="619.20" stroke="#000" stroke-width="2.6" stroke-linecap="butt"/>
<text transform="translate(26.0,651.25) rotate(-90)" font-size="14.5" font-weight="normal" text-anchor="middle" textLength="131" lengthAdjust="spacingAndGlyphs" stroke="#000" stroke-width="0.35">relative expression</text>
<text x="182.1" y="549.6" font-size="18" font-weight="bold" font-style="normal" textLength="11.0" lengthAdjust="spacingAndGlyphs">F</text>
<text x="247.8" y="549.0" font-size="14" font-weight="bold" font-style="italic" textLength="38.7" lengthAdjust="spacingAndGlyphs">BCL6</text>
<text x="228.73" y="760.6" font-size="14" font-weight="bold" font-style="normal" textLength="17.51" lengthAdjust="spacingAndGlyphs">nil</text>
<text x="285.4" y="760.8" font-size="14" font-weight="bold" font-style="normal" textLength="23.13" lengthAdjust="spacingAndGlyphs">Th1</text>
<line x1="208.70" y1="560.99" x2="208.70" y2="738.80" stroke="#000" stroke-width="3.3" stroke-linecap="butt"/>
<line x1="202.10" y1="738.80" x2="208.70" y2="738.80" stroke="#000" stroke-width="3.0" stroke-linecap="butt"/>
<text x="202.00" y="743.75" font-size="13" font-weight="normal" font-style="normal" text-anchor="end" stroke="#000" stroke-width="0.6">0</text>
<line x1="202.10" y1="680.03" x2="208.70" y2="680.03" stroke="#000" stroke-width="3.0" stroke-linecap="butt"/>
<text x="200.80" y="684.98" font-size="13" font-weight="normal" font-style="normal" text-anchor="end" stroke="#000" stroke-width="0.6">1</text>
<line x1="202.10" y1="621.26" x2="208.70" y2="621.26" stroke="#000" stroke-width="3.0" stroke-linecap="butt"/>
<text x="200.80" y="626.21" font-size="13" font-weight="normal" font-style="normal" text-anchor="end" stroke="#000" stroke-width="0.6">2</text>
<line x1="202.10" y1="562.49" x2="208.70" y2="562.49" stroke="#000" stroke-width="3.0" stroke-linecap="butt"/>
<text x="200.80" y="567.44" font-size="13" font-weight="normal" font-style="normal" text-anchor="end" stroke="#000" stroke-width="0.6">3</text>
<line x1="202.10" y1="738.80" x2="327.40" y2="738.80" stroke="#000" stroke-width="3.3" stroke-linecap="butt"/>
<line x1="237.30" y1="738.80" x2="237.30" y2="745.40" stroke="#000" stroke-width="3" stroke-linecap="butt"/>
<line x1="296.20" y1="738.80" x2="296.20" y2="745.40" stroke="#000" stroke-width="3" stroke-linecap="butt"/>
<rect x="218.80" y="679.70" width="17.00" height="59.10" fill="#000"/>
<rect x="241.60" y="649.20" width="15.20" height="89.60" fill="#fff" stroke="#000" stroke-width="2.4"/>
<rect x="277.20" y="628.20" width="17.30" height="110.60" fill="#000"/>
<rect x="300.30" y="613.40" width="14.80" height="125.40" fill="#fff" stroke="#000" stroke-width="2.4"/>
<line x1="249.30" y1="648.50" x2="249.30" y2="630.10" stroke="#000" stroke-width="2.6" stroke-linecap="butt"/>
<line x1="244.70" y1="630.10" x2="253.90" y2="630.10" stroke="#000" stroke-width="2.6" stroke-linecap="butt"/>
<line x1="285.90" y1="628.50" x2="285.90" y2="619.80" stroke="#000" stroke-width="2.6" stroke-linecap="butt"/>
<line x1="281.10" y1="619.80" x2="290.70" y2="619.80" stroke="#000" stroke-width="2.6" stroke-linecap="butt"/>
<line x1="308.60" y1="612.50" x2="308.60" y2="591.00" stroke="#000" stroke-width="2.6" stroke-linecap="butt"/>
<line x1="303.30" y1="591.00" x2="313.90" y2="591.00" stroke="#000" stroke-width="2.6" stroke-linecap="butt"/>
<text transform="translate(189.7,651.25) rotate(-90)" font-size="14.5" font-weight="normal" text-anchor="middle" textLength="131" lengthAdjust="spacingAndGlyphs" stroke="#000" stroke-width="0.35">relative expression</text>
<rect x="56.90" y="783.50" width="29.70" height="9.80" fill="#000"/>
<text x="90.14" y="793.5" font-size="14" font-weight="bold" font-style="normal" textLength="51.17" lengthAdjust="spacingAndGlyphs">Normal</text>
<rect x="162.90" y="785.00" width="27.10" height="7.40" fill="#fff" stroke="#000" stroke-width="2.2"/>
<text x="193.9" y="793.2" font-size="14" font-weight="bold" font-style="normal" textLength="46.39" lengthAdjust="spacingAndGlyphs">STAT3</text>
<text x="240.16" y="799.0" font-size="8.5" font-weight="bold" font-style="normal" textLength="19.07" lengthAdjust="spacingAndGlyphs">MUT</text>
</svg>
</body></html>
